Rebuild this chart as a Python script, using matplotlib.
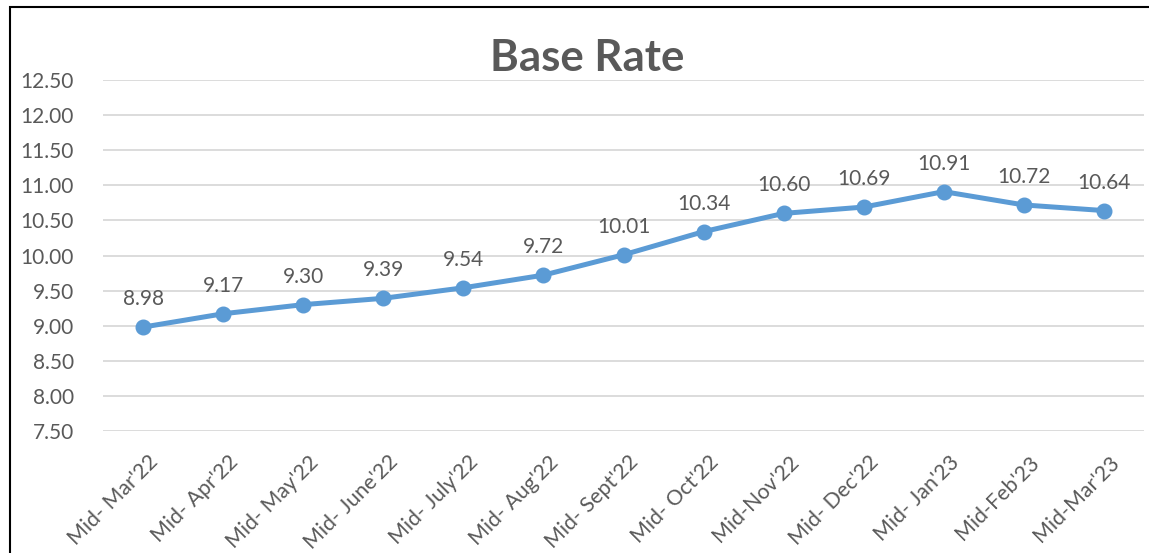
import matplotlib
matplotlib.use("Agg")
import matplotlib.pyplot as plt
from matplotlib.patches import Rectangle
from matplotlib.transforms import ScaledTranslation, blended_transform_factory

categories = ["Mid- Mar'22", "Mid- Apr'22", "Mid- May'22", "Mid- June'22", "Mid- July'22",
              "Mid- Aug'22", "Mid- Sept'22", "Mid- Oct'22", "Mid-Nov'22", "Mid- Dec'22",
              "Mid- Jan'23", "Mid-Feb'23", "Mid-Mar'23"]
base_rate = [8.98, 9.17, 9.30, 9.39, 9.54, 9.72, 10.01, 10.34, 10.60, 10.69, 10.91, 10.72, 10.64]
yticks = [7.5, 8.0, 8.5, 9.0, 9.5, 10.0, 10.5, 11.0, 11.5, 12.0, 12.5]

plt.rcParams['font.family'] = ['Lato', 'DejaVu Sans']
TXT = '#595959'
BLUE = '#5B9BD5'

W, H = 1149, 553
fig = plt.figure(figsize=(W / 100, H / 100), dpi=100)
ax = fig.add_axes([103 / W, 1 - 431 / H, (1144 - 103) / W, (431 - 80) / H])

x = list(range(len(categories)))
ax.plot(x, base_rate, color=BLUE, lw=3.6, marker='o', markersize=10.5,
        solid_capstyle='round', zorder=3)
for xi, v in zip(x, base_rate):
    ax.annotate(f"{v:.2f}", (xi, v), xytext=(0, 13), textcoords='offset points',
                ha='center', va='bottom', fontsize=15, color=TXT)

ax.set_xlim(-0.5, len(categories) - 0.5)
ax.set_ylim(7.5, 12.5)
ax.set_yticks(yticks)
ax.set_yticklabels([f"{t:.2f}" for t in yticks], fontsize=15, color=TXT)
ax.set_xticks(x)
ax.set_xticklabels([])
trans = blended_transform_factory(ax.transData, ax.transAxes) + \
    ScaledTranslation(5 / 100, -21 / 100, fig.dpi_scale_trans)
for xi, lab in zip(x, categories):
    ax.text(xi, 0, lab, transform=trans, rotation=45, ha='right', va='top',
            rotation_mode='anchor', fontsize=15.3, color=TXT, clip_on=False)
ax.tick_params(axis='both', length=0)
ax.tick_params(axis='y', pad=21)
for s in ax.spines.values():
    s.set_visible(False)
ax.grid(axis='y', color='#D9D9D9', lw=1.3)
ax.set_axisbelow(True)

fig.text(587 / W, 1 - 58 / H, "Base Rate", ha='center', va='center',
         fontsize=31.5, fontweight='bold', color=TXT)

fig.patches.append(Rectangle((10 / W, -0.1), 1.2, 1 - 7 / H + 0.1, transform=fig.transFigure,
                             fill=False, edgecolor='black', lw=1.5))

fig.savefig("out.png", dpi=100)
